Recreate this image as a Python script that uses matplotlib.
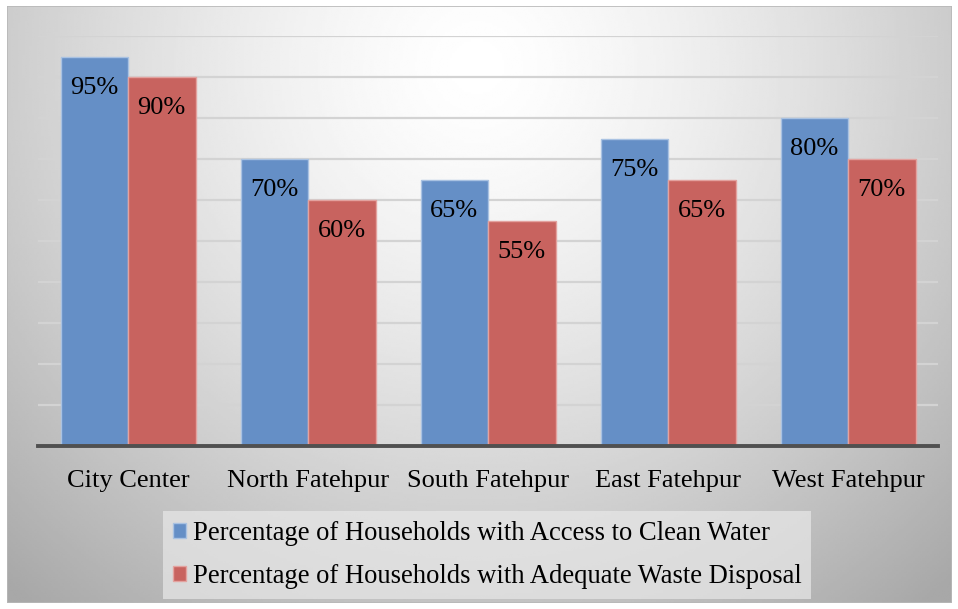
import numpy as np
import matplotlib
matplotlib.use("Agg")
import matplotlib.pyplot as plt
from matplotlib.patches import Patch, Rectangle

categories = ["City Center", "North Fatehpur", "South Fatehpur", "East Fatehpur", "West Fatehpur"]
clean_water = [95, 70, 65, 75, 80]
waste_disposal = [90, 60, 55, 65, 70]
series_names = ["Percentage of Households with Access to Clean Water",
                "Percentage of Households with Adequate Waste Disposal"]

W, H, DPI = 958, 609, 100
fig = plt.figure(figsize=(W / DPI, H / DPI), dpi=DPI)
fig.patch.set_facecolor("white")

# Radial grey gradient for the chart area
bg = fig.add_axes([7 / W, 1 - 603 / H, 945 / W, 597 / H], zorder=0)
gx = np.linspace(0, 945, 400)
gy = np.linspace(0, 597, 260)
X, Y = np.meshgrid(gx, gy)
r = np.sqrt(((X - 470) / 560) ** 2 + ((Y - 60) / 560) ** 2)
shade = np.clip(1.0 - 0.25 * np.clip(r, 0, 1.25) ** 1.4, 0, 1)
bg.imshow(shade, cmap="gray", vmin=0, vmax=1, aspect="auto",
          extent=[0, 945, 597, 0], interpolation="bilinear")
bg.set_xlim(0, 945)
bg.set_ylim(597, 0)
bg.axis("off")
bg.add_patch(Rectangle((0, 0), 945, 597, fill=False, edgecolor="#b8b8b8", lw=1.2))

ax = fig.add_axes([38 / W, 1 - 446 / H, 900 / W, 410 / H], zorder=1)
ax.patch.set_alpha(0)

x = np.arange(len(categories))
width = 0.375
blue, red = "#658fc6", "#c8635f"
b1 = ax.bar(x - width / 2, clean_water, width, color=blue, edgecolor="#a9c2e2",
            linewidth=1.0, zorder=3)
b2 = ax.bar(x + width / 2, waste_disposal, width, color=red, edgecolor="#e3a29f",
            linewidth=1.0, zorder=3)

serif = "Liberation Serif"
for bars, vals in ((b1, clean_water), (b2, waste_disposal)):
    for rect, v in zip(bars, vals):
        ax.annotate(f"{v}%", (rect.get_x() + rect.get_width() / 2, v),
                    xytext=(0, -22.5), textcoords="offset points",
                    ha="center", va="center", fontsize=19, family=serif,
                    color="black", zorder=4)

ax.set_xlim(-0.5, len(categories) - 0.5)
ax.set_ylim(0, 100)
ax.set_yticks(np.arange(10, 101, 10))
ax.yaxis.grid(True, color="#d3d3d3", linewidth=1.6, zorder=0)
ax.tick_params(axis="y", left=False, labelleft=False)
ax.set_xticks(x)
ax.set_xticklabels(categories, fontsize=19, family=serif)
ax.tick_params(axis="x", bottom=False, pad=13.5)
for s in ("top", "right", "left"):
    ax.spines[s].set_visible(False)
ax.spines["bottom"].set_color("#505050")
ax.spines["bottom"].set_linewidth(2.8)
ax.spines["bottom"].set_zorder(5)

handles = [Patch(facecolor=blue, edgecolor="#a9c2e2"),
           Patch(facecolor=red, edgecolor="#e3a29f")]
leg = fig.legend(handles, series_names, loc="center",
                 bbox_to_anchor=(487 / W, 1 - 555 / H),
                 prop={"family": serif, "size": 19.2},
                 frameon=True, facecolor="#e8e8e8", edgecolor="none",
                 framealpha=0.7, fancybox=False,
                 handlelength=0.5, handleheight=0.5, handletextpad=0.25,
                 labelspacing=0.7, borderpad=0.35, borderaxespad=0)
leg.set_zorder(6)

fig.savefig("out.png", dpi=DPI, facecolor=fig.get_facecolor())
